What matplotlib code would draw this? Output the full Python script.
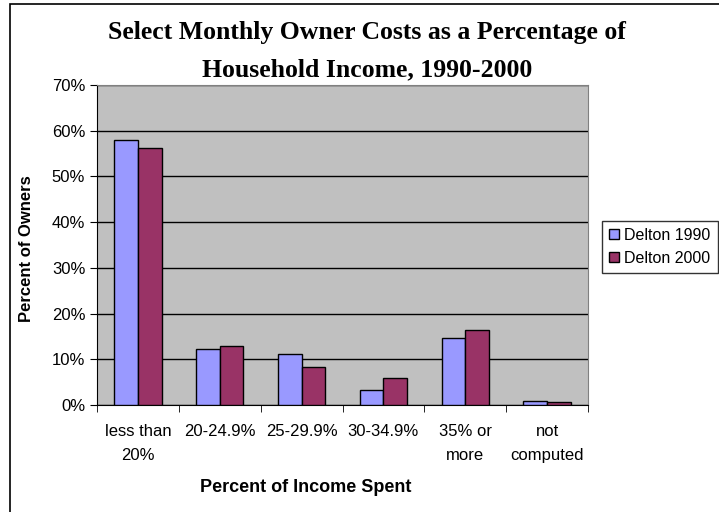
import numpy as np
import matplotlib.pyplot as plt
from matplotlib.patches import Rectangle

categories = ['less than\n20%', '20-24.9%', '25-29.9%', '30-34.9%', '35% or\nmore', 'not\ncomputed']
delton_1990 = [58.0, 12.3, 11.1, 3.2, 14.7, 0.9]
delton_2000 = [56.2, 13.0, 8.3, 5.8, 16.4, 0.6]

plt.rcParams['font.family'] = ['Liberation Sans', 'DejaVu Sans']

W, H = 719, 512
fig = plt.figure(figsize=(W / 100, H / 100), dpi=100)
# plot area: x 97..588, y 85..405 (pixels)
ax = fig.add_axes([97 / W, 1 - 405 / H, 491 / W, 320 / H])
ax.set_facecolor('#C0C0C0')

x = np.arange(len(categories))
w = 0.29
ax.bar(x - w / 2, delton_1990, w, color='#9999FF', edgecolor='black', linewidth=1,
       label='Delton 1990', zorder=3)
ax.bar(x + w / 2, delton_2000, w, color='#993366', edgecolor='black', linewidth=1,
       label='Delton 2000', zorder=3)

ax.set_ylim(0, 70)
ax.set_xlim(-0.5, len(categories) - 0.5)
ax.set_yticks(np.arange(0, 71, 10))
ax.set_yticklabels([f'{v}%' for v in range(0, 71, 10)], fontsize=12)
ax.yaxis.grid(True, color='black', linewidth=1, zorder=1)
ax.set_axisbelow(True)

ax.set_xticks(x)
ax.set_xticklabels(categories, fontsize=12, linespacing=1.7)
ax.tick_params(axis='x', length=0, pad=14)
ax.set_xticks(np.arange(-0.5, len(categories), 1), minor=True)
ax.tick_params(axis='x', which='minor', length=5, direction='out', color='black')
ax.tick_params(axis='y', length=5, direction='out', color='black')

ax.spines['top'].set_color('#808080')
ax.spines['right'].set_color('#808080')
ax.spines['left'].set_color('black')
ax.spines['bottom'].set_color('black')

ax.set_xlabel('Percent of Income Spent', fontsize=13, fontweight='bold')
ax.xaxis.set_label_coords((306 - 97) / 491, (405 - 488) / 320)
ax.xaxis.label.set_va('center')
ax.set_ylabel('Percent of Owners', fontsize=12, fontweight='bold')
ax.yaxis.set_label_coords((27 - 97) / 491, (405 - 249) / 320)
ax.yaxis.label.set_va('center')

fig.text(367 / W, 1 - 32 / H, 'Select Monthly Owner Costs as a Percentage of',
         ha='center', va='center', fontsize=18.5, fontweight='bold', family='Liberation Serif')
fig.text(367 / W, 1 - 70 / H, 'Household Income, 1990-2000',
         ha='center', va='center', fontsize=18.5, fontweight='bold', family='Liberation Serif')

leg = fig.legend(loc='lower left', bbox_to_anchor=(602 / W, 1 - 273 / H),
                 fontsize=11.5, frameon=True, fancybox=False, edgecolor='black',
                 handlelength=0.6, handleheight=0.6, handletextpad=0.35,
                 borderpad=0.45, labelspacing=0.5, borderaxespad=0)
leg.get_frame().set_linewidth(1)

# outer chart border (clipped on right and bottom like the original)
fig.patches.append(Rectangle((10 / W, -0.05), 1.1, 1 - 4 / H + 0.05, transform=fig.transFigure,
                             fill=False, edgecolor='black', linewidth=1.2))

fig.savefig('out.png', dpi=100)
